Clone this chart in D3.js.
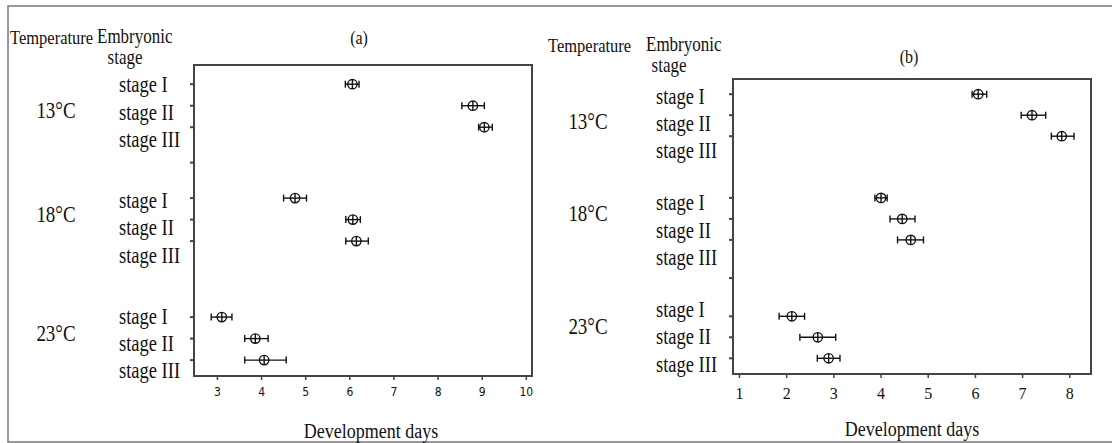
<!DOCTYPE html>
<html>
<head>
<meta charset="utf-8">
<script src="https://cdn.jsdelivr.net/npm/d3@7"></script>
<style>
  html, body { margin: 0; padding: 0; background: #fff; }
  svg { display: block; }
  text { font-family: "Liberation Serif", "Times New Roman", serif; fill: #111; }
</style>
</head>
<body>
<div id="chart"></div>
<script>
// data
const temps = ['13°C', '18°C', '23°C'];
const stages = ['stage I', 'stage II', 'stage III'];

// (a) rows: 13 I, II, III, 18 I, II, III, 23 I, II, III
const meanA = [6.07, 8.80, 9.06, 4.77, 6.08, 6.16, 3.11, 3.87, 4.07];
const lowA  = [5.91, 8.55, 8.93, 4.51, 5.92, 5.92, 2.87, 3.63, 3.63];
const highA = [6.22, 9.06, 9.24, 5.03, 6.25, 6.43, 3.34, 4.16, 4.57];

// (b)
const meanB = [6.07, 7.21, 7.84, 4.01, 4.46, 4.64, 2.12, 2.67, 2.90];
const lowB  = [5.94, 6.98, 7.62, 3.88, 4.20, 4.36, 1.85, 2.29, 2.66];
const highB = [6.25, 7.50, 8.10, 4.14, 4.73, 4.91, 2.39, 3.05, 3.14];

const ticksA = [3, 4, 5, 6, 7, 8, 9, 10];
const ticksB = [1, 2, 3, 4, 5, 6, 7, 8];

const W = 1112, H = 443;
const ink = '#111';

const svg = d3.select('#chart').append('svg')
  .attr('width', W).attr('height', H);

// outer border (top, left, bottom)
svg.append('path')
  .attr('d', `M${W},6H8V442H${W}`)
  .attr('fill', 'none')
  .attr('stroke', '#777')
  .attr('stroke-width', 1.5);

// text is a bit tall and narrow in the source figure
function label(g, x, y, str, size, anchor) {
  return g.append('text')
    .attr('transform', `translate(${x},${y}) scale(1,1.2)`)
    .attr('text-anchor', anchor || 'start')
    .attr('dominant-baseline', 'central')
    .attr('font-size', size)
    .text(str);
}

function drawPanel(p) {
  const g = svg.append('g');
  const idx = d3.scaleOrdinal().domain(temps).range([0, 1, 2]);

  const x = d3.scaleLinear().domain(p.domain).range([p.x0, p.x1]);
  // group centres are not evenly spaced in the figure
  const yGroupLin = d3.scaleLinear().domain([0, 1, 2]).range(p.groupY);
  const yGroup = t => yGroupLin(idx(t));
  const yStage = d3.scalePoint().domain(stages).range([-p.step, p.step]);

  // left-hand labels sit on their own, evenly spaced grid
  const yLabGroup = d3.scalePoint().domain(temps).range(p.labY);
  const yLab = d3.scalePoint().domain(stages).range([-27.3, 27.3]);
  const yTempLin = d3.scaleLinear().domain([0, 1, 2]).range(p.tempY);

  const rows = [];
  temps.forEach((t, i) => stages.forEach((s, j) => {
    const k = i * stages.length + j;
    rows.push({ t, s, mean: p.mean[k], lo: p.low[k], hi: p.high[k] });
  }));
  const yRow = d => yGroup(d.t) + yStage(d.s);

  // frame
  g.append('rect')
    .attr('x', p.x0).attr('y', p.y0)
    .attr('width', p.x1 - p.x0).attr('height', p.y1 - p.y0)
    .attr('fill', 'none')
    .attr('stroke', '#444')
    .attr('stroke-width', 2);

  // x axis
  const xAxis = g.append('g')
    .attr('transform', `translate(0,${p.y1})`)
    .call(d3.axisBottom(x).tickValues(p.ticks).tickSize(4).tickPadding(p.tickPad).tickSizeOuter(0));
  xAxis.select('.domain').remove();
  xAxis.selectAll('line').attr('stroke', '#444').attr('stroke-width', 1.5);
  xAxis.selectAll('text')
    .attr('fill', ink)
    .style('font-family', p.tickFont)
    .attr('font-size', p.tickSize);

  // y ticks at each row, plus one between two groups
  const yTicks = rows.map(yRow);
  const gi = p.midAfter;
  yTicks.push((yGroup(temps[gi]) + yStage(stages[2]) + yGroup(temps[gi + 1]) + yStage(stages[0])) / 2);
  g.selectAll('line.ytick')
    .data(yTicks)
    .join('line')
    .attr('class', 'ytick')
    .attr('x1', p.x0 - 4).attr('x2', p.x0)
    .attr('y1', d => d).attr('y2', d => d)
    .attr('stroke', '#444')
    .attr('stroke-width', 2);

  // intervals
  const cap = 3.5, r = 4.7;
  const marks = g.selectAll('g.mark')
    .data(rows)
    .join('g')
    .attr('class', 'mark')
    .attr('stroke', ink)
    .attr('stroke-width', 1.4)
    .attr('fill', 'none');

  marks.append('line')
    .attr('x1', d => x(d.lo)).attr('x2', d => x(d.hi))
    .attr('y1', yRow).attr('y2', yRow);
  marks.append('line')
    .attr('x1', d => x(d.lo)).attr('x2', d => x(d.lo))
    .attr('y1', d => yRow(d) - cap).attr('y2', d => yRow(d) + cap);
  marks.append('line')
    .attr('x1', d => x(d.hi)).attr('x2', d => x(d.hi))
    .attr('y1', d => yRow(d) - cap).attr('y2', d => yRow(d) + cap);
  marks.append('circle')
    .attr('cx', d => x(d.mean)).attr('cy', yRow)
    .attr('r', r)
    .attr('fill', '#fff');
  marks.append('line')
    .attr('x1', d => x(d.mean)).attr('x2', d => x(d.mean))
    .attr('y1', d => yRow(d) - r).attr('y2', d => yRow(d) + r);
  marks.append('line')
    .attr('x1', d => x(d.mean) - r).attr('x2', d => x(d.mean) + r)
    .attr('y1', yRow).attr('y2', yRow);

  // left labels
  temps.forEach(t => {
    label(g, p.tempX, yTempLin(idx(t)), t, 19, 'middle');
    stages.forEach(s => {
      label(g, p.stageX, yLabGroup(t) + yLab(s), s, 18.5, 'start');
    });
  });

  // headers
  label(g, p.headTempX, p.headY, 'Temperature', 16.5, 'start');
  label(g, p.headEmbX, p.headY - 1, 'Embryonic', 17, 'start');
  label(g, p.headStageX, p.headY + 20, 'stage', 17, 'middle');
  label(g, p.titleX, p.titleY, p.title, 16, 'middle');
  label(g, p.xLabelX, p.xLabelY, 'Development days', 18, 'middle');
}

drawPanel({
  title: '(a)', mean: meanA, low: lowA, high: highA, ticks: ticksA,
  domain: [2.48, 10.14], x0: 194, x1: 532, y0: 65, y1: 376,
  groupY: [105.7, 219.6, 338.6], step: 21.5,
  labY: [112, 343.5], tempY: [110, 214.3, 333.3],
  midAfter: 0, stageX: 119, tempX: 56,
  headTempX: 10, headEmbX: 97, headStageX: 125, headY: 37,
  titleX: 359, titleY: 37, xLabelX: 371, xLabelY: 430,
  tickFont: '"DejaVu Sans Condensed", "DejaVu Sans", sans-serif', tickSize: 12, tickPad: 7
});

drawPanel({
  title: '(b)', mean: meanB, low: lowB, high: highB, ticks: ticksB,
  domain: [0.873, 8.46], x0: 733, x1: 1091, y0: 79, y1: 374,
  groupY: [115.2, 218.9, 337.3], step: 21,
  labY: [123.3, 336.7], tempY: [121.7, 213.3, 326.7],
  midAfter: 1, stageX: 656, tempX: 588,
  headTempX: 548, headEmbX: 646, headStageX: 669, headY: 45,
  titleX: 909, titleY: 56, xLabelX: 912, xLabelY: 428,
  tickFont: '"Liberation Serif", serif', tickSize: 16, tickPad: 10
});
</script>
</body>
</html>
